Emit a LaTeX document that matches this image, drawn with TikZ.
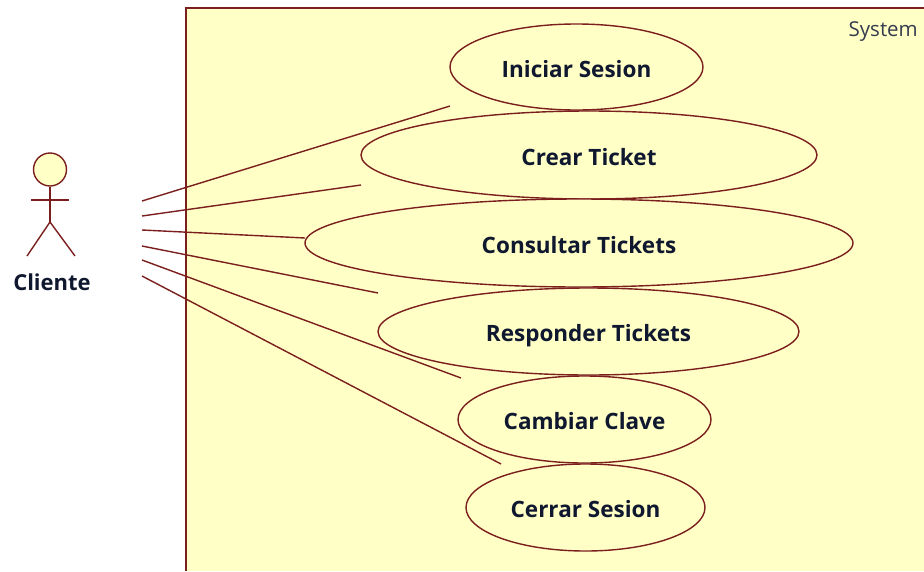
\documentclass[tikz,border=0pt]{standalone}
\usepackage{fontspec}
\setmainfont{Open Sans}
\usetikzlibrary{shapes.geometric}
\definecolor{umlline}{HTML}{7A1E1E}
\definecolor{umlfill}{HTML}{FFFFC6}
\definecolor{umltext}{HTML}{101830}
\tikzset{
  wire/.style={draw=umlline,line width=1.4pt},
  usecase/.style={ellipse,draw=umlline,fill=umlfill,line width=1.4pt,inner sep=0pt,
    text height=20pt,text depth=0pt,
    font=\fontsize{22.5}{26}\selectfont\bfseries,text=umltext},
  boxlabel/.style={font=\fontsize{20.5}{24}\selectfont,text=umltext!85!white,inner sep=0pt}
}
\begin{document}
\begin{tikzpicture}[x=1pt,y=-1pt]
\useasboundingbox (0,0) rectangle (924,571);
% system boundary
\path[fill=umlfill] (186,8) rectangle (924,571);
\draw[wire] (186,571) -- (186,8) -- (924,8);
\node[boxlabel,anchor=east] (system) at (918,32) {System};
% use cases
\node[usecase,minimum width=253pt,minimum height=86pt] (iniciar) at (576.5,67) {Iniciar Sesion};
\node[usecase,minimum width=456pt,minimum height=88pt] (crear) at (589,155) {Crear Ticket};
\node[usecase,minimum width=548pt,minimum height=88pt] (consultar) at (579,243) {Consultar Tickets};
\node[usecase,minimum width=421pt,minimum height=87pt] (responder) at (588.5,331.5) {Responder Tickets};
\node[usecase,minimum width=253pt,minimum height=87pt] (cambiar) at (584.5,419.5) {Cambiar Clave};
\node[usecase,minimum width=239pt,minimum height=87pt] (cerrar) at (585.5,507.5) {Cerrar Sesion};
% actor
\node[circle,draw=umlline,fill=umlfill,line width=1.4pt,minimum size=33pt,inner sep=0pt] (head) at (50,169.5) {};
\coordinate (hip) at (50,222);
\coordinate (armL) at (31,200);
\coordinate (armR) at (69,200);
\coordinate (footL) at (27,256);
\coordinate (footR) at (75,256);
\draw[wire] (head.south) -- (hip);
\draw[wire] (armL) -- (armR);
\draw[wire] (footL) -- (hip) -- (footR);
\node[font=\fontsize{22}{26}\selectfont\bfseries,text=umltext,inner sep=0pt] (cliente) at (52,282) {Cliente};
% connector ends
\coordinate (a1) at (142,201); \coordinate (b1) at (450,106);
\coordinate (a2) at (142,216); \coordinate (b2) at (361,185);
\coordinate (a3) at (142,230); \coordinate (b3) at (305,238);
\coordinate (a4) at (142,246); \coordinate (b4) at (378,293);
\coordinate (a5) at (142,260); \coordinate (b5) at (461,378);
\coordinate (a6) at (142,276); \coordinate (b6) at (501,464);
\foreach \i in {1,...,6} \draw[wire] (a\i) -- (b\i);
\end{tikzpicture}
\end{document}
